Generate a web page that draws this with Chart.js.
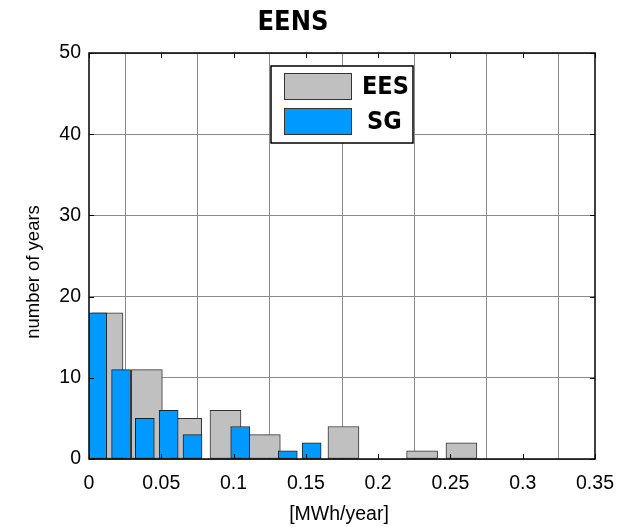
<!DOCTYPE html>
<html>
<head>
<meta charset="utf-8">
<script src="https://cdn.jsdelivr.net/npm/chart.js@4"></script>
<style>
  html, body { margin: 0; padding: 0; background: #fff; }
  #wrap { width: 629px; height: 527px; }
</style>
</head>
<body>
<div id="wrap"><canvas id="myChart"></canvas></div>
<script>
// bin centres [MWh/year] and counts
const eesCenters = [0.0128, 0.0400, 0.0672, 0.0944, 0.1216, 0.1488, 0.1760, 0.2032, 0.2304, 0.2576];
const eesCounts  = [18, 11, 5, 6, 3, 0, 4, 0, 1, 2];
const sgCenters  = [0.0057, 0.0222, 0.0386, 0.0551, 0.0716, 0.0881, 0.1046, 0.1210, 0.1375, 0.1540];
const sgCounts   = [18, 11, 5, 6, 3, 0, 4, 0, 1, 2];
const xTickLabels = ['0', '0.05', '0.1', '0.15', '0.2', '0.25', '0.3', '0.35'];
const yTickLabels = ['0', '10', '20', '30', '40', '50'];
const seriesNames = ['EES', 'SG'];

const tickFont = { family: 'Liberation Sans, Arial, sans-serif', size: 19.5 };
const boldFont = '"Liberation Sans Narrow", "DejaVu Sans Condensed", sans-serif';

// MATLAB-like decorations: box, inward ticks, titles, legend inside the axes
const matlabLook = {
    id: 'matlabLook',
    afterDraw(chart) {
        const { ctx, chartArea: a, scales } = chart;
        ctx.save();
        ctx.strokeStyle = '#000';
        ctx.lineWidth = 1.5;
        ctx.strokeRect(a.left, a.top, a.right - a.left, a.bottom - a.top);

        ctx.lineWidth = 1;
        scales.x.ticks.forEach(t => {
            const px = Math.round(scales.x.getPixelForValue(t.value)) + 0.5;
            ctx.beginPath();
            ctx.moveTo(px, a.bottom); ctx.lineTo(px, a.bottom - 5);
            ctx.moveTo(px, a.top); ctx.lineTo(px, a.top + 5);
            ctx.stroke();
        });
        scales.y.ticks.forEach(t => {
            const py = Math.round(scales.y.getPixelForValue(t.value)) + 0.5;
            ctx.beginPath();
            ctx.moveTo(a.left, py); ctx.lineTo(a.left + 5, py);
            ctx.moveTo(a.right, py); ctx.lineTo(a.right - 5, py);
            ctx.stroke();
        });

        ctx.fillStyle = '#000';
        ctx.textAlign = 'center';
        ctx.textBaseline = 'middle';
        ctx.font = 'bold 27px ' + boldFont;
        ctx.fillText('EENS', 293, 23);

        ctx.font = '19.5px Liberation Sans, Arial, sans-serif';
        ctx.fillText('[MWh/year]', 339, 515);
        ctx.save();
        ctx.translate(34, 272);
        ctx.rotate(-Math.PI / 2);
        ctx.font = '18.5px Liberation Sans, Arial, sans-serif';
        ctx.fillText('number of years', 0, 0);
        ctx.restore();

        // legend
        const lx = 271, ly = 66, lw = 142, lh = 77;
        ctx.fillStyle = '#fff';
        ctx.fillRect(lx, ly, lw, lh);
        ctx.strokeStyle = '#000';
        ctx.lineWidth = 1.5;
        ctx.strokeRect(lx, ly, lw, lh);
        const fills = ['#c0c0c0', '#0099ff'];
        ctx.lineWidth = 1;
        ctx.strokeStyle = '#333';
        ctx.font = 'bold 25px ' + boldFont;
        ctx.textAlign = 'left';
        seriesNames.forEach((name, i) => {
            const sy = 73.5 + i * 35;
            ctx.fillStyle = fills[i];
            ctx.fillRect(284.5, sy, 67, 26);
            ctx.strokeRect(284.5, sy, 67, 26);
            ctx.fillStyle = '#000';
            ctx.fillText(name, i === 0 ? 362 : 367, sy + 14);
        });
        ctx.restore();
    }
};

const ctx = document.getElementById('myChart').getContext('2d');

new Chart(ctx, {
    type: 'bar',
    data: {
        datasets: [{
            label: seriesNames[0],
            data: eesCenters.map((c, i) => ({ x: c, y: eesCounts[i] })),
            backgroundColor: '#c0c0c0',
            borderColor: '#333',
            borderWidth: 1,
            borderSkipped: false,
            barThickness: 31,
            grouped: false,
            order: 1
        }, {
            label: seriesNames[1],
            data: sgCenters.map((c, i) => ({ x: c, y: sgCounts[i] })),
            backgroundColor: '#0099ff',
            borderColor: '#222',
            borderWidth: 1,
            borderSkipped: false,
            barThickness: 19,
            grouped: false,
            order: 0
        }]
    },
    options: {
        responsive: true,
        maintainAspectRatio: false,
        animation: false,
        layout: {
            padding: { top: 53, right: 34, left: 0, bottom: 0 }
        },
        plugins: {
            legend: { display: false },
            tooltip: { enabled: false }
        },
        scales: {
            x: {
                type: 'linear',
                min: 0,
                max: 0.35,
                offset: false,
                afterFit: s => { s.height = 68; },
                grid: { color: '#8a8a8a', lineWidth: 1, drawTicks: false },
                border: { display: false },
                ticks: {
                    stepSize: 0.05,
                    padding: 13,
                    color: '#000',
                    font: tickFont,
                    maxRotation: 0,
                    callback: (v, i) => xTickLabels[i]
                }
            },
            y: {
                min: 0,
                max: 50,
                afterFit: s => { s.width = 89; },
                grid: { color: '#8a8a8a', lineWidth: 1, drawTicks: false },
                border: { display: false },
                ticks: {
                    stepSize: 10,
                    padding: 8,
                    color: '#000',
                    font: tickFont,
                    callback: (v, i) => yTickLabels[i]
                }
            }
        }
    },
    plugins: [matlabLook]
});
</script>
</body>
</html>
